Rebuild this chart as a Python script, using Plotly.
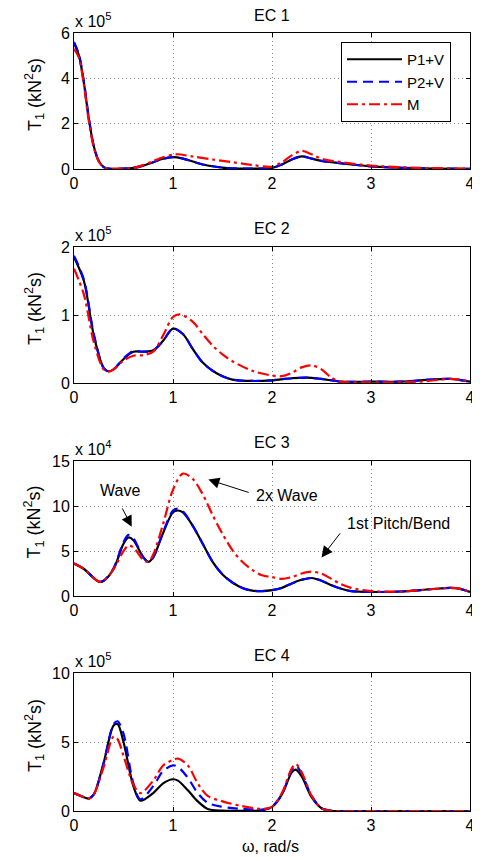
import plotly.graph_objects as go

# the page body adds an 8px margin, so the figure is sized to the visible area
OFF = 8
W, H = 480 - OFF, 859 - OFF
FONT = "Liberation Sans, Arial, sans-serif"

# ---------- data (values in units of the axis multiplier) ----------
titles = ["EC 1", "EC 2", "EC 3", "EC 4"]
exponents = [5, 5, 4, 5]
y_ranges = [[0, 6], [0, 2], [0, 15], [0, 10]]
y_dticks = [2, 1, 5, 5]
series_names = ["P1+V", "P2+V", "M"]

# EC 1
ec1_p1_x = [0, 0.05, 0.1, 0.15, 0.2, 0.25, 0.3, 0.35, 0.5, 0.6, 0.7, 0.8, 0.9, 1.0, 1.1, 1.2, 1.3, 1.4, 1.5, 1.6, 1.8, 2.0, 2.1, 2.2, 2.3, 2.4, 2.5, 2.6, 2.8, 3.0, 3.2, 3.5, 4.0]
ec1_p1_y = [5.55, 5.0, 3.8, 2.2, 1.0, 0.35, 0.08, 0.02, 0.02, 0.05, 0.15, 0.3, 0.45, 0.52, 0.46, 0.33, 0.2, 0.12, 0.06, 0.03, 0.02, 0.05, 0.2, 0.42, 0.56, 0.46, 0.36, 0.3, 0.2, 0.12, 0.07, 0.03, 0.01]
ec1_p2_y = [5.6, 5.05, 3.85, 2.25, 1.0, 0.35, 0.08, 0.02, 0.02, 0.05, 0.15, 0.3, 0.45, 0.52, 0.46, 0.33, 0.2, 0.12, 0.06, 0.03, 0.02, 0.05, 0.2, 0.42, 0.56, 0.46, 0.36, 0.3, 0.2, 0.12, 0.07, 0.03, 0.01]
ec1_m_x = [0, 0.05, 0.1, 0.15, 0.2, 0.25, 0.3, 0.35, 0.5, 0.6, 0.7, 0.8, 0.9, 1.0, 1.05, 1.2, 1.4, 1.6, 1.8, 2.0, 2.1, 2.2, 2.3, 2.4, 2.5, 2.7, 3.0, 3.5, 4.0]
ec1_m_y = [5.3, 4.9, 3.7, 2.1, 0.95, 0.33, 0.08, 0.02, 0.02, 0.05, 0.17, 0.35, 0.52, 0.63, 0.65, 0.55, 0.42, 0.3, 0.18, 0.1, 0.3, 0.6, 0.8, 0.65, 0.45, 0.3, 0.15, 0.05, 0.01]

# EC 2
ec2_x = [0, 0.1, 0.2, 0.3, 0.35, 0.4, 0.5, 0.6, 0.7, 0.8, 0.9, 1.0, 1.1, 1.2, 1.3, 1.4, 1.5, 1.6, 1.8, 2.0, 2.2, 2.35, 2.5, 2.7, 3.0, 3.3, 3.6, 3.8, 4.0]
ec2_p1_y = [1.85, 1.5, 0.7, 0.22, 0.17, 0.2, 0.35, 0.46, 0.46, 0.48, 0.62, 0.8, 0.72, 0.5, 0.3, 0.18, 0.1, 0.05, 0.03, 0.04, 0.07, 0.08, 0.06, 0.02, 0.02, 0.02, 0.05, 0.06, 0.02]
ec2_p2_y = [1.87, 1.52, 0.72, 0.22, 0.17, 0.2, 0.36, 0.47, 0.46, 0.48, 0.62, 0.8, 0.72, 0.5, 0.3, 0.18, 0.1, 0.05, 0.03, 0.04, 0.07, 0.08, 0.06, 0.02, 0.02, 0.02, 0.05, 0.06, 0.02]
ec2_m_x = [0, 0.1, 0.2, 0.3, 0.35, 0.4, 0.5, 0.6, 0.7, 0.8, 0.9, 1.0, 1.07, 1.2, 1.3, 1.4, 1.5, 1.6, 1.8, 2.0, 2.1, 2.2, 2.3, 2.4, 2.5, 2.6, 2.7, 3.0, 3.5, 3.8, 4.0]
ec2_m_y = [1.68, 1.3, 0.6, 0.2, 0.17, 0.2, 0.33, 0.4, 0.41, 0.46, 0.7, 0.97, 1.01, 0.9, 0.72, 0.55, 0.42, 0.32, 0.18, 0.11, 0.1, 0.15, 0.23, 0.26, 0.2, 0.08, 0.02, 0.01, 0.02, 0.06, 0.02]

# EC 3
ec3_x = [0, 0.1, 0.25, 0.3, 0.4, 0.5, 0.55, 0.6, 0.7, 0.75, 0.8, 0.9, 1.0, 1.05, 1.1, 1.2, 1.3, 1.4, 1.5, 1.6, 1.7, 1.8, 1.9, 2.0, 2.1, 2.2, 2.3, 2.4, 2.5, 2.6, 2.7, 2.8, 3.0, 3.3, 3.6, 3.8, 3.9, 4.0]
ec3_p1_y = [3.6, 3.0, 1.6, 1.7, 3.0, 5.8, 6.5, 6.2, 4.3, 3.8, 4.3, 7.0, 9.3, 9.5, 9.3, 7.8, 5.8, 3.8, 2.4, 1.5, 0.9, 0.6, 0.55, 0.65, 0.9, 1.4, 1.8, 2.0, 1.7, 1.2, 0.8, 0.55, 0.45, 0.5, 0.75, 0.9, 0.8, 0.45]
ec3_p2_y = [3.6, 3.0, 1.6, 1.7, 3.1, 6.0, 6.8, 6.4, 4.3, 3.8, 4.3, 7.1, 9.5, 9.7, 9.4, 7.8, 5.8, 3.8, 2.4, 1.5, 0.9, 0.6, 0.55, 0.65, 0.9, 1.4, 1.8, 2.0, 1.7, 1.2, 0.8, 0.55, 0.45, 0.5, 0.75, 0.9, 0.8, 0.45]
ec3_m_x = [0, 0.1, 0.25, 0.3, 0.4, 0.5, 0.55, 0.6, 0.7, 0.75, 0.8, 0.9, 1.0, 1.1, 1.2, 1.3, 1.4, 1.5, 1.6, 1.7, 1.8, 1.9, 2.0, 2.1, 2.2, 2.3, 2.4, 2.5, 2.6, 2.7, 2.8, 3.0, 3.3, 3.6, 3.8, 3.9, 4.0]
ec3_m_y = [3.6, 3.0, 1.6, 1.7, 3.0, 5.0, 5.6, 5.4, 4.0, 3.8, 4.6, 8.0, 11.8, 13.6, 13.0, 11.3, 9.0, 6.9, 5.1, 3.8, 2.9, 2.3, 2.1, 1.9, 2.1, 2.5, 2.7, 2.5, 1.9, 1.3, 0.9, 0.55, 0.5, 0.75, 0.9, 0.8, 0.45]

# EC 4
ec4_x = [0, 0.1, 0.15, 0.2, 0.3, 0.4, 0.44, 0.5, 0.6, 0.67, 0.8, 0.9, 1.0, 1.05, 1.15, 1.25, 1.35, 1.5, 1.7, 1.9, 2.0, 2.1, 2.2, 2.24, 2.3, 2.4, 2.5, 2.6, 3.0, 4.0]
ec4_p1_y = [1.3, 1.0, 0.9, 1.2, 3.5, 6.2, 6.3, 5.0, 1.8, 0.75, 1.3, 2.0, 2.3, 2.2, 1.5, 0.7, 0.15, 0.02, 0.01, 0.05, 0.3, 1.2, 2.8, 3.0, 2.5, 1.0, 0.2, 0.02, 0.0, 0.0]
ec4_p2_y = [1.3, 1.0, 0.9, 1.2, 3.5, 6.3, 6.5, 5.6, 2.0, 0.85, 1.8, 2.9, 3.3, 3.2, 2.4, 1.3, 0.6, 0.3, 0.15, 0.1, 0.3, 1.2, 3.0, 3.3, 2.7, 1.1, 0.2, 0.02, 0.0, 0.0]
ec4_m_y = [1.3, 1.0, 0.9, 1.2, 3.2, 5.4, 5.2, 4.0, 1.9, 1.3, 2.2, 3.3, 3.7, 3.8, 3.3, 2.0, 1.1, 0.7, 0.35, 0.15, 0.3, 1.3, 3.1, 3.4, 2.8, 1.1, 0.2, 0.02, 0.0, 0.0]

panels = [
    [(ec1_p1_x, ec1_p1_y), (ec1_p1_x, ec1_p2_y), (ec1_m_x, ec1_m_y)],
    [(ec2_x, ec2_p1_y), (ec2_x, ec2_p2_y), (ec2_m_x, ec2_m_y)],
    [(ec3_x, ec3_p1_y), (ec3_x, ec3_p2_y), (ec3_m_x, ec3_m_y)],
    [(ec4_x, ec4_p1_y), (ec4_x, ec4_p2_y), (ec4_x, ec4_m_y)],
]

# annotations on EC 3
ec3_labels = ["Wave", "2x Wave", "1st Pitch/Bend"]
ec3_text_xy = [(0.465, 11.75), (2.15, 11.2), (3.28, 8.1)]
ec3_tail_xy = [(0.48, 9.9), (1.78, 11.45), (2.70, 7.13)]
ec3_head_xy = [(0.583, 7.7), (1.357, 12.94), (2.50, 4.29)]

# ---------- styles ----------
colors = ["black", "blue", "red"]
dashes = ["solid", "10px,6px", "11px,4px,3px,4px"]
widths = [2.2, 2.2, 2.2]

# target page-pixel positions
px_left, px_right = 74, 470
panel_px = [(33, 169), (247, 383), (461, 596), (673, 811)]


def fx(px):
    return (px - OFF) / W


def fy(py):
    return 1 - (py - OFF) / H


fig = go.Figure()
layout = dict(
    template="none",
    width=W, height=H, autosize=False,
    margin=dict(l=0, r=0, t=0, b=0, pad=0),
    paper_bgcolor="white", plot_bgcolor="white",
    font=dict(family=FONT, size=16, color="black"),
    showlegend=True,
    legend=dict(x=fx(341), y=fy(42), xanchor="left", yanchor="top",
                bordercolor="black", borderwidth=1, bgcolor="white",
                font=dict(size=15, family=FONT, color="black"), itemwidth=55,
                tracegroupgap=0),
)
annotations = []

for i, series in enumerate(panels):
    ax_id = "" if i == 0 else str(i + 1)
    xa, ya = "x" + ax_id, "y" + ax_id
    top, bot = panel_px[i]
    for j, (xs, ys) in enumerate(series):
        fig.add_trace(go.Scatter(
            x=xs, y=ys, mode="lines", name=series_names[j],
            line=dict(color=colors[j], dash=dashes[j], width=widths[j],
                      shape="spline", smoothing=0.9),
            xaxis=xa, yaxis=ya, showlegend=(i == 0), cliponaxis=True))
    axcommon = dict(showline=True, linecolor="black", linewidth=1, mirror="ticks",
                    ticks="inside", ticklen=4, tickcolor="black", tickwidth=1,
                    showgrid=True, gridcolor="#8c8c8c", griddash="1px,3px", gridwidth=1,
                    zeroline=False, automargin=False,
                    tickfont=dict(size=16, family=FONT, color="black"))
    layout["xaxis" + ax_id] = dict(
        domain=[fx(px_left), fx(px_right)], range=[0, 4], dtick=1, tick0=0,
        anchor=ya, **axcommon)
    layout["yaxis" + ax_id] = dict(
        domain=[fy(bot), fy(top)], range=y_ranges[i], dtick=y_dticks[i],
        tick0=0, anchor=xa, **axcommon)
    annotations.append(dict(text=titles[i], xref="paper", yref="paper",
                            x=fx((px_left + px_right) / 2), y=fy(top - 18),
                            xanchor="center", yanchor="middle", showarrow=False,
                            font=dict(size=16)))
    annotations.append(dict(text="x 10<sup>%d</sup>" % exponents[i], xref="paper", yref="paper",
                            x=fx(px_left - 1), y=fy(top - 1),
                            xanchor="left", yanchor="bottom", showarrow=False,
                            font=dict(size=16)))
    annotations.append(dict(text="T<sub>1</sub>&nbsp;(kN<sup>2</sup>s)", xref="paper", yref="paper",
                            x=fx(34), y=fy((top + bot) / 2 - 6), textangle=-90,
                            xanchor="center", yanchor="middle", showarrow=False,
                            font=dict(size=18)))

annotations.append(dict(text="ω, rad/s", xref="paper", yref="paper",
                        x=fx(270), y=fy(846),
                        xanchor="center", yanchor="middle", showarrow=False,
                        font=dict(size=16)))

for lab, (tx, ty), (ax_, ay_), (hx, hy) in zip(ec3_labels, ec3_text_xy, ec3_tail_xy, ec3_head_xy):
    annotations.append(dict(text=lab, xref="x3", yref="y3", x=tx, y=ty,
                            showarrow=False, font=dict(size=16)))
    annotations.append(dict(text="", xref="x3", yref="y3", x=hx, y=hy,
                            axref="x3", ayref="y3", ax=ax_, ay=ay_,
                            showarrow=True, arrowhead=2, arrowsize=2.2,
                            arrowwidth=1, arrowcolor="black"))

layout["annotations"] = annotations
fig.update_layout(**layout)
fig.write_html("out.html")
